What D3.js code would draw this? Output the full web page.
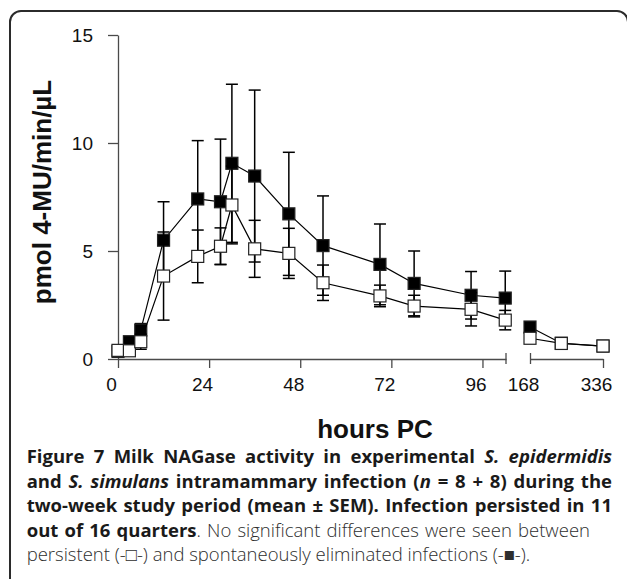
<!DOCTYPE html>
<html>
<head>
<meta charset="utf-8">
<script src="https://cdn.jsdelivr.net/npm/d3@7"></script>
<style>
  body { margin: 0; background: #fff; }
  svg { display: block; }
</style>
</head>
<body>
<svg id="chart"></svg>
<script>
// sampling times (hours post challenge)
const hours = [0, 3, 6, 12, 21, 27, 30, 36, 45, 54, 69, 78, 93, 102, 168, 240, 336];

// spontaneously eliminated infections (filled squares)
const eliminatedMean = [0.35, 0.8, 1.34, 5.5, 7.41, 7.28, 9.06, 8.47, 6.72, 5.25, 4.38, 3.5, 2.95, 2.82, 1.48, 0.73, 0.6];
const eliminatedSem = [0.1, 0.15, 0.3, 1.78, 2.7, 2.9, 3.66, 3.98, 2.85, 2.3, 1.87, 1.5, 1.1, 1.25, 0.2, 0.1, 0.1];

// persistent infections (open squares)
const persistentMean = [0.4, 0.38, 0.8, 3.84, 4.75, 5.22, 7.13, 5.1, 4.89, 3.53, 2.92, 2.45, 2.3, 1.8, 0.96, 0.72, 0.6];
const persistentSem = [0.1, 0.1, 0.35, 2.04, 1.22, 0.85, 1.8, 1.32, 1.16, 0.82, 0.5, 0.5, 0.77, 0.45, 0.1, 0.1, 0.1];

const yTicks = [0, 5, 10, 15];
const xTicksA = [0, 24, 48, 72, 96];
const xTicksB = [168, 336];

const yTitle = "pmol 4-MU/min/\u00b5L";
const xTitle = "hours PC";

// caption lines: [text, style] with b = bold, bi = bold italic, r = regular
const captionLines = [
  [["Figure 7 Milk NAGase activity in experimental ", "b"], ["S. epidermidis", "bi"]],
  [["and ", "b"], ["S. simulans", "bi"], [" intramammary infection (", "b"], ["n", "bi"], [" = 8 + 8) during the", "b"]],
  [["two-week study period (mean \u00b1 SEM). Infection persisted in 11", "b"]],
  [["out of 16 quarters", "b"], [". No significant differences were seen between", "r"]],
  [["persistent (-\u25a1-) and spontaneously eliminated infections (-\u25a0-).", "r"]]
];
const captionRight = [612, 612, 612, 590, 531];

const width = 627;
const height = 579;

const svg = d3.select("#chart").attr("width", width).attr("height", height);

// frame round the figure
svg.append("rect")
  .attr("x", 10).attr("y", 11)
  .attr("width", 618).attr("height", 620)
  .attr("rx", 11)
  .attr("fill", "none")
  .attr("stroke", "#2b2b2b")
  .attr("stroke-width", 2);

// scales: broken x axis with two segments
const y = d3.scaleLinear().domain([0, 15]).range([359, 35]);
const xA = d3.scaleLinear().domain([0, 102.2]).range([118, 506]);
const xB = d3.scaleLinear().domain([168, 336]).range([530, 603]);
const xPos = (h) => (h <= 102.2 ? xA(h) : xB(h));

// axes
const axisColor = "#4a4a4a";

const yAxis = svg.append("g")
  .attr("transform", "translate(" + xA(0) + ",0)")
  .call(d3.axisLeft(y).tickValues(yTicks).tickSize(10).tickSizeOuter(0).tickPadding(15));

const xAxisA = svg.append("g")
  .attr("transform", "translate(0," + y(0) + ")")
  .call(d3.axisBottom(xA).tickValues(xTicksA).tickSize(9).tickSizeOuter(0).tickPadding(9.5));

const xAxisB = svg.append("g")
  .attr("transform", "translate(0," + y(0) + ")")
  .call(d3.axisBottom(xB).tickValues(xTicksB).tickSize(9).tickSizeOuter(0).tickPadding(9.5));

// break marks at the end of the first segment and the start of the second
xAxisA.append("line")
  .attr("x1", xA.range()[1]).attr("x2", xA.range()[1])
  .attr("y1", -6).attr("y2", 5);
xAxisB.selectAll(".tick")
  .filter((d) => d === 168)
  .select("line")
  .attr("y1", -6).attr("y2", 5);

[yAxis, xAxisA, xAxisB].forEach((g) => {
  g.selectAll("path, line").attr("stroke", axisColor).attr("stroke-width", 1.3);
  g.selectAll("text")
    .attr("fill", "#111")
    .style("font-family", "'Liberation Sans', Arial, sans-serif")
    .style("font-size", "19px");
});
xAxisA.selectAll(".tick text").attr("x", -7);
xAxisB.selectAll(".tick text").attr("x", -7);

// axis titles
svg.append("text")
  .attr("transform", "translate(51,192) rotate(-90)")
  .attr("text-anchor", "middle")
  .style("font-family", "'Liberation Sans', Arial, sans-serif")
  .style("font-size", "26px")
  .style("font-weight", "bold")
  .attr("fill", "#111")
  .text(yTitle);

svg.append("text")
  .attr("x", 375).attr("y", 438)
  .attr("text-anchor", "middle")
  .style("font-family", "'Liberation Sans', Arial, sans-serif")
  .style("font-size", "26px")
  .style("font-weight", "bold")
  .attr("fill", "#111")
  .text(xTitle);

// series
const makeSeries = (means, sems) =>
  hours.map((h, i) => ({ h: h, v: means[i], e: sems[i], seg: h <= 102.2 ? 0 : 1 }));

const series = [
  { name: "eliminated", data: makeSeries(eliminatedMean, eliminatedSem), fill: "#000" },
  { name: "persistent", data: makeSeries(persistentMean, persistentSem), fill: "#fff" }
];

const line = d3.line()
  .x((d) => xPos(d.h))
  .y((d) => y(d.v));

const sq = 12;
const cap = 6;

series.forEach((s) => {
  const g = svg.append("g").attr("class", s.name);

  // error bars
  const eb = g.selectAll(".err")
    .data(s.data)
    .enter()
    .append("g")
    .attr("class", "err")
    .attr("stroke", "#000")
    .attr("stroke-width", 1.5);
  eb.append("line")
    .attr("x1", (d) => xPos(d.h)).attr("x2", (d) => xPos(d.h))
    .attr("y1", (d) => y(d.v + d.e)).attr("y2", (d) => y(d.v - d.e));
  eb.append("line")
    .attr("x1", (d) => xPos(d.h) - cap).attr("x2", (d) => xPos(d.h) + cap)
    .attr("y1", (d) => y(d.v + d.e)).attr("y2", (d) => y(d.v + d.e));
  eb.append("line")
    .attr("x1", (d) => xPos(d.h) - cap).attr("x2", (d) => xPos(d.h) + cap)
    .attr("y1", (d) => y(d.v - d.e)).attr("y2", (d) => y(d.v - d.e));

  // connecting lines, one per axis segment
  [0, 1].forEach((seg) => {
    g.append("path")
      .datum(s.data.filter((d) => d.seg === seg))
      .attr("fill", "none")
      .attr("stroke", "#000")
      .attr("stroke-width", 1.2)
      .attr("d", line);
  });

  g.selectAll(".pt")
    .data(s.data)
    .enter()
    .append("rect")
    .attr("class", "pt")
    .attr("x", (d) => xPos(d.h) - sq / 2)
    .attr("y", (d) => y(d.v) - sq / 2)
    .attr("width", sq)
    .attr("height", sq)
    .attr("fill", s.fill)
    .attr("stroke", "#222")
    .attr("stroke-width", 1.2);
});

// caption: font size fitted on the third (fully bold) line, then the
// justified lines stretched to the right edge seen in the figure
const capLeft = 26.7;
const capTop = 463;
const capStep = 24.6;

const drawCaptionLine = (parts, i, size) => {
  const t = svg.append("text")
    .attr("x", capLeft)
    .attr("y", capTop + i * capStep)
    .style("font-family", "'Open Sans', 'Noto Sans', sans-serif")
    .style("font-size", size + "px")
    .attr("fill", "#1a1a1a");
  parts.forEach((p) => {
    const bold = p[1].startsWith("b");
    t.append("tspan")
      .style("font-weight", bold ? "bold" : "300")
      .style("font-style", p[1].endsWith("i") ? "italic" : "normal")
      .attr("fill", bold ? "#1a1a1a" : "#2e2e2e")
      .text(p[0]);
  });
  return t;
};

const probe = drawCaptionLine(captionLines[2], 2, 16);
let capSize = 16 * (captionRight[2] - capLeft) / probe.node().getComputedTextLength();
capSize = Math.max(14, Math.min(18.5, capSize));
probe.remove();

captionLines.forEach((parts, i) => {
  const t = drawCaptionLine(parts, i, capSize);
  if (i === captionLines.length - 1) return; // last line stays ragged
  const natural = t.node().getComputedTextLength();
  const spaces = parts.map((p) => p[0]).join("").split(" ").length - 1;
  const extra = captionRight[i] - capLeft - natural;
  if (spaces > 0 && extra > 0) t.style("word-spacing", extra / spaces + "px");
});
</script>
</body>
</html>
